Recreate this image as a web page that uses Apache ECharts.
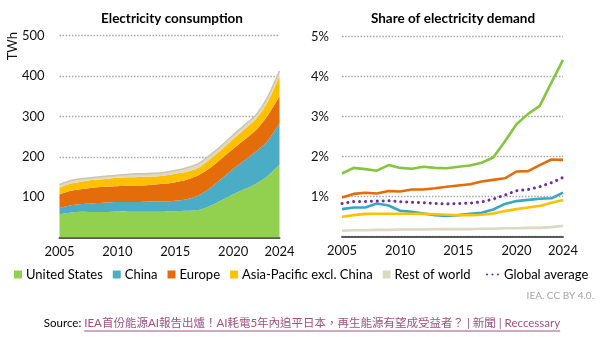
<!DOCTYPE html>
<html>
<head>
<meta charset="utf-8">
<script src="https://cdn.jsdelivr.net/npm/echarts@6/dist/echarts.min.js"></script>
<style>
html,body{margin:0;padding:0;background:#fff;}
#main{width:600px;height:337px;}
</style>
</head>
<body>
<div id="main"></div>
<script>
// ---------- DATA ----------
const years = ['2005','2006','2007','2008','2009','2010','2011','2012','2013','2014','2015','2016','2017','2018','2019','2020','2021','2022','2023','2024'];
const xTickLabels = ['2005','2010','2015','2020','2024'];
const seriesNames = ['United States','China','Europe','Asia-Pacific excl. China','Rest of world','Global average'];

// Electricity consumption (TWh), stacked
const consUS     = [58,62,64,63,63,65,64,64,64,64,65,66,68,78,92,107,120,134,153,181];
const consChina  = [15,18,19,22,24,23,24,24,25,25,26,29,36,44,54,63,72,80,87,102];
const consEurope = [34,36,37,39,39,39,40,41,42,44,46,48,50,50,50,50,51,53,63,67];
const consAPAC   = [17,18,19,19,19,21,21,21,20,20,21,20,19,22,22,24,26,28,34,51];
const consRoW    = [7,7,7,6,7,6,8,8,8,8,8,10,10,10,10,10,10,10,12,12];

// Share of electricity demand (%)
const shareUS     = [1.58,1.72,1.69,1.65,1.79,1.72,1.70,1.75,1.72,1.71,1.75,1.78,1.85,1.98,2.38,2.81,3.07,3.27,3.85,4.42];
const shareChina  = [0.69,0.73,0.73,0.83,0.78,0.65,0.62,0.58,0.54,0.52,0.54,0.57,0.60,0.68,0.82,0.89,0.92,0.95,0.96,1.10];
const shareEurope = [0.98,1.07,1.10,1.08,1.14,1.13,1.18,1.18,1.21,1.25,1.28,1.31,1.38,1.42,1.46,1.63,1.64,1.79,1.93,1.92];
const shareAPAC   = [0.50,0.54,0.57,0.575,0.575,0.575,0.575,0.57,0.56,0.55,0.54,0.54,0.55,0.58,0.64,0.69,0.73,0.77,0.85,0.92];
const shareRoW    = [0.15,0.16,0.16,0.17,0.17,0.18,0.18,0.18,0.19,0.19,0.19,0.19,0.20,0.20,0.21,0.21,0.22,0.22,0.24,0.27];
const shareGlobal = [0.83,0.88,0.88,0.89,0.90,0.875,0.86,0.85,0.83,0.82,0.83,0.84,0.87,0.94,1.04,1.15,1.18,1.25,1.35,1.48];

const colors = ['#92d050','#4bacc6','#e46c0a','#ffc000','#ddd9c3','#7030a0'];
const lineColors = ['#84c63e','#35a7c8','#e46c0a','#ffc000','#ddd9c3','#7030a0'];

// ---------- CHART ----------
const FONT = 'Lato, "Noto Sans CJK TC", sans-serif';
const chart = echarts.init(document.getElementById('main'), null, {renderer:'canvas'});

function measure(text, size, weight){
  const c = document.createElement('canvas').getContext('2d');
  c.font = (weight||'normal') + ' ' + size + 'px ' + FONT;
  return c.measureText(text).width;
}

const xAxisBase = {
  type:'category', data: years, boundaryGap:false,
  axisLine:{show:true, lineStyle:{color:'#595959', width:2}},
  axisTick:{show:false},
  axisLabel:{
    interval:(i, v)=> xTickLabels.indexOf(v) >= 0,
    color:'#111', fontSize:13, fontFamily:FONT, margin:8
  },
  splitLine:{show:false}
};
const splitDotted = {show:true, lineStyle:{color:'#a6a6a6', width:1.3, type:[1.5,1.6]}};

const consArrays = [consUS, consChina, consEurope, consAPAC, consRoW];
const shareArrays = [shareUS, shareChina, shareEurope, shareAPAC, shareRoW, shareGlobal];

const series = [];
consArrays.forEach((arr, i) => {
  series.push({
    name: seriesNames[i], type:'line', stack:'cons', xAxisIndex:0, yAxisIndex:0,
    data: arr, smooth:0.25, symbol:'none',
    lineStyle:{width: i===4 ? 1.5 : 0, color: i===4 ? '#cbc6af' : colors[i]},
    areaStyle:{color: colors[i], opacity:1},
    itemStyle:{color: colors[i]}
  });
});
shareArrays.forEach((arr, i) => {
  const isGlobal = i === 5;
  series.push({
    name: seriesNames[i], type:'line', xAxisIndex:1, yAxisIndex:1,
    data: arr, symbol:'none',
    lineStyle: isGlobal ? {width:3, color: lineColors[i], type:[0.1,5.8], cap:'round'} : {width:2.6, color: lineColors[i]},
    itemStyle:{color: colors[i]}
  });
});

const linkText = 'IEA首份能源AI報告出爐！AI耗電5年內追平日本，再生能源有望成受益者？ | 新聞 | Reccessary';
const srcText = 'Source: ';
const srcSize = 11.5;
const wSrc = measure(srcText, srcSize);
const wLink = measure(linkText, srcSize);
const srcLeft = 302 - (wSrc + wLink)/2;
const srcY = 323;

const option = {
  animation:false,
  backgroundColor:'#fff',
  title:[
    {text:'Electricity consumption', left:167, top:7, textAlign:'center',
     textStyle:{fontSize:13.5, fontWeight:'bold', color:'#000', fontFamily:FONT}},
    {text:'Share of electricity demand', left:448, top:7, textAlign:'center',
     textStyle:{fontSize:13.5, fontWeight:'bold', color:'#000', fontFamily:FONT}}
  ],
  grid:[
    {left:59.5, width:220, top:35.7, height:201.8},
    {left:342, width:221, top:36.7, height:200}
  ],
  xAxis:[ Object.assign({gridIndex:0}, xAxisBase), Object.assign({gridIndex:1}, xAxisBase) ],
  yAxis:[
    {type:'value', gridIndex:0, min:0, max:500, interval:100,
     axisLine:{show:false}, axisTick:{show:false},
     axisLabel:{formatter:v=> v===0 ? '' : String(v), color:'#111', fontSize:13, fontFamily:FONT, margin:15},
     splitLine:splitDotted},
    {type:'value', gridIndex:1, min:0, max:5, interval:1,
     axisLine:{show:false}, axisTick:{show:false},
     axisLabel:{formatter:v=> v===0 ? '' : v + '%', color:'#111', fontSize:13, fontFamily:FONT, margin:13},
     splitLine:splitDotted}
  ],
  legend:[
    {data: seriesNames.slice(0,5).map(n=>({name:n, icon:'rect'})),
     left:14, top:268, padding:0, itemWidth:8, itemHeight:8, itemGap:10,
     textStyle:{fontSize:13, color:'#000', fontFamily:FONT, padding:[0,0,0,-1]}},
    {data:[{name:'Global average', icon:'path://M1,0A1,1,0,1,1,1,2A1,1,0,1,1,1,0zM6,0A1,1,0,1,1,6,2A1,1,0,1,1,6,0zM11,0A1,1,0,1,1,11,2A1,1,0,1,1,11,0z', itemStyle:{color:'#7030a0'}}],
     left:486, top:268, padding:0, itemWidth:13, itemHeight:2.6, itemGap:10,
     textStyle:{fontSize:13, color:'#000', fontFamily:FONT}}
  ],
  graphic:[
    {type:'text', left:6, top:32, rotation:Math.PI/2,
     style:{text:'TWh', fontSize:13, fontFamily:FONT, fill:'#111'}},
    {type:'text', right:6, top:291,
     style:{text:'IEA. CC BY 4.0.', fontSize:10, fontFamily:FONT, fill:'#a6a6a6'}},
    {type:'text', x:srcLeft, y:srcY,
     style:{text:srcText, fontSize:srcSize, fontFamily:FONT, fill:'#000', textVerticalAlign:'middle'}},
    {type:'text', x:srcLeft + wSrc, y:srcY,
     style:{text:linkText, fontSize:srcSize, fontFamily:FONT, fill:'#a2507f', textVerticalAlign:'middle'}},
    {type:'line', shape:{x1:srcLeft + wSrc, y1:srcY+8, x2:srcLeft + wSrc + wLink, y2:srcY+8},
     style:{stroke:'#a2507f', lineWidth:1}}
  ],
  series: series
};
chart.setOption(option);
</script>
</body>
</html>
